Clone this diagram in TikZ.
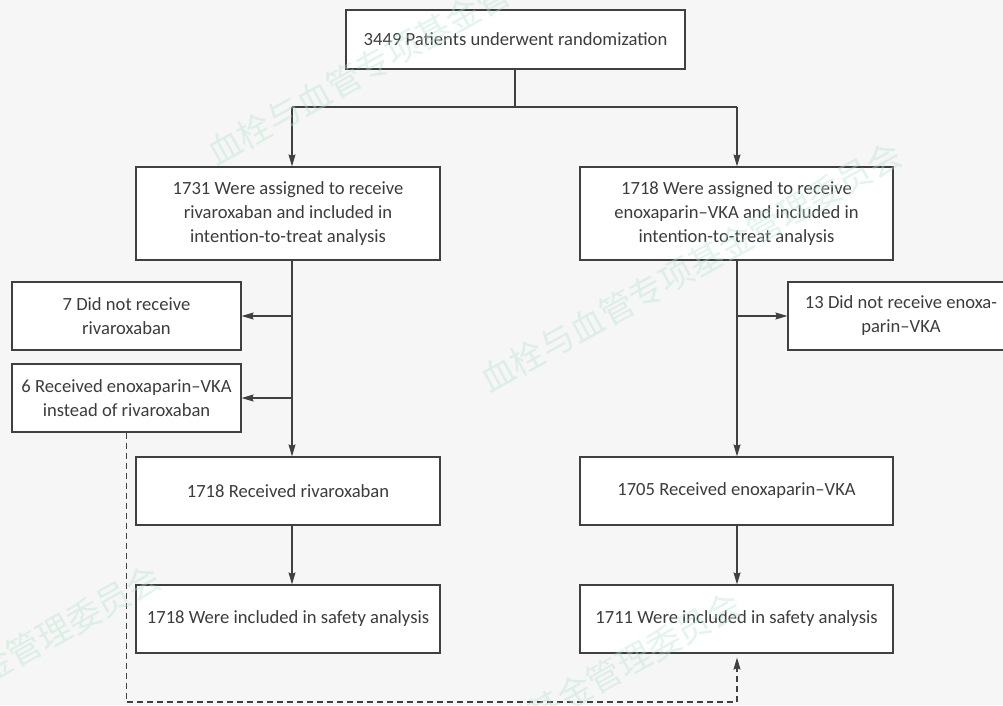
\documentclass[tikz,border=0pt]{standalone}
\usepackage{fontspec}
\setmainfont{Carlito}
\newfontfamily\cjkfont{Noto Sans CJK SC}
\usetikzlibrary{arrows.meta}
\definecolor{bg}{HTML}{F6F6F6}
\definecolor{ink}{HTML}{3C3C3C}
\definecolor{edge}{HTML}{404040}
\definecolor{wmark}{HTML}{B5E3CC}
\begin{document}
\begin{tikzpicture}[x=1pt,y=-1pt,
  box/.style={draw=edge,line width=1.2pt,fill=white,text=ink,align=center,
    inner sep=0pt,font=\fontsize{18.6}{24}\selectfont},
  link/.style={draw=edge,line width=1.2pt},
  flow/.style={link,-{Stealth[length=12pt,width=7pt,inset=1.5pt]}},
  dashlink/.style={flow,dash pattern=on 6pt off 4pt},
  stamp/.style={rotate=29,text=wmark,opacity=0.38,inner sep=0pt,
    font=\cjkfont\fontsize{34}{34}\selectfont}]
% canvas
\fill[bg] (0,0) rectangle (1003,705);
\useasboundingbox (0,0) rectangle (1003,705);

% boxes
\node[box,minimum width=339pt,minimum height=59pt] (top) at (515.5,39.5)
  {3449 Patients underwent randomization};
\node[box,minimum width=304pt,minimum height=93pt] (L1) at (288,213.5)
  {1731 Were assigned to receive\\rivaroxaban and included in\\intention-to-treat analysis};
\node[box,minimum width=313pt,minimum height=93pt] (R1) at (736.5,213.5)
  {1718 Were assigned to receive\\enoxaparin–VKA and included in\\intention-to-treat analysis};
\node[box,minimum width=229pt,minimum height=68pt] (S1) at (126.5,316)
  {7 Did not receive\\rivaroxaban};
\node[box,minimum width=229pt,minimum height=68pt] (S2) at (126.5,398)
  {6 Received enoxaparin–VKA\\instead of rivaroxaban};
\node[box,minimum width=226pt,minimum height=68pt] (S3) at (901,316)
  {13 Did not receive enoxa-\\parin–VKA};
\node[box,minimum width=304pt,minimum height=68pt] (L2) at (288,491)
  {1718 Received rivaroxaban};
\node[box,minimum width=313pt,minimum height=68pt] (R2) at (736.5,491)
  {1705 Received enoxaparin–VKA};
\node[box,minimum width=304pt,minimum height=68pt] (L3) at (288,619)
  {1718 Were included in safety analysis};
\node[box,minimum width=313pt,minimum height=68pt] (R3) at (736.5,619)
  {1711 Were included in safety analysis};

% connectors
\coordinate (split) at (515,107);
\coordinate (colL) at (292,107);
\coordinate (colR) at (737,107);
\coordinate (loop) at (126.5,702);
\draw[link] (top.south -| split) -- (split);
\draw[link] (colL) -- (colR);
\draw[flow] (colL) -- (colL |- L1.north);
\draw[flow] (colR) -- (colR |- R1.north);
\draw[flow] (colL |- L1.south) -- (colL |- L2.north);
\draw[flow] (colL |- S1.east) -- (S1.east);
\draw[flow] (colL |- S2.east) -- (S2.east);
\draw[flow] (colR |- R1.south) -- (colR |- R2.north);
\draw[flow] (colR |- S3.west) -- (S3.west);
\draw[flow] (colL |- L2.south) -- (colL |- L3.north);
\draw[flow] (colR |- R2.south) -- (colR |- R3.north);
\draw[dashlink,shorten >=4pt] (S2.south) -- (loop) -| (colR |- R3.south);

% watermark
\node[stamp] (wm1) at (418,40) {血栓与血管专项基金管理委员会};
\node[stamp] (wm2) at (691,267) {血栓与血管专项基金管理委员会};
\node[stamp] (wm3) at (-50,690) {血栓与血管专项基金管理委员会};
\node[stamp] (wm4) at (530,717) {血栓与血管专项基金管理委员会};
\end{tikzpicture}
\end{document}
